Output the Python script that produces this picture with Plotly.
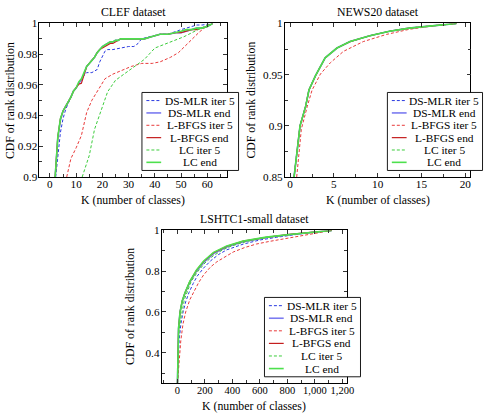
import plotly.graph_objects as go

# ---------------- data ----------------
series_names = ["DS-MLR iter 5", "DS-MLR end", "L-BFGS iter 5", "L-BFGS end", "LC iter 5", "LC end"]

# CLEF dataset
clef_dsmlr_iter5_x = [2.2, 3, 4, 5, 6, 7, 8, 9, 10, 11, 12, 13, 14, 16, 17, 18, 19, 20, 21, 22, 24, 27, 30, 32, 33, 34, 35, 37, 40, 42, 45, 48, 50, 52, 54, 56, 58, 62]
clef_dsmlr_iter5_y = [0.900, 0.915, 0.929, 0.938, 0.944, 0.948, 0.952, 0.956, 0.958, 0.961, 0.964, 0.966, 0.968, 0.968, 0.969, 0.970, 0.975, 0.979, 0.982, 0.983, 0.983, 0.984, 0.985, 0.985, 0.986, 0.988, 0.990, 0.991, 0.992, 0.993, 0.993, 0.995, 0.996, 0.997, 0.998, 0.999, 0.999, 1.000]
clef_end_x = [2, 3, 4, 5, 6, 7, 8, 9, 10, 11, 12, 13, 14, 15, 16, 17, 18, 19, 20, 21, 22, 23, 24, 25, 26, 27, 30, 33, 36, 38, 40, 42, 45, 48, 50, 52, 54, 56, 58, 60, 62]
clef_dsmlr_end_y = [0.900, 0.925, 0.937, 0.943, 0.946, 0.949, 0.952, 0.956, 0.958, 0.961, 0.963, 0.967, 0.972, 0.974, 0.976, 0.978, 0.981, 0.983, 0.985, 0.986, 0.987, 0.988, 0.988, 0.989, 0.989, 0.990, 0.990, 0.990, 0.990, 0.991, 0.992, 0.993, 0.993, 0.994, 0.994, 0.995, 0.996, 0.997, 0.997, 0.998, 1.000]
clef_lbfgs_end_y = [0.900, 0.926, 0.938, 0.943, 0.946, 0.949, 0.952, 0.956, 0.958, 0.9605, 0.961, 0.966, 0.972, 0.974, 0.976, 0.978, 0.981, 0.983, 0.984, 0.985, 0.986, 0.987, 0.987, 0.988, 0.989, 0.990, 0.990, 0.990, 0.990, 0.991, 0.992, 0.993, 0.993, 0.994, 0.994, 0.995, 0.996, 0.996, 0.997, 0.998, 1.000]
clef_lc_end_y = [0.900, 0.926, 0.938, 0.943, 0.946, 0.949, 0.952, 0.956, 0.958, 0.962, 0.964, 0.968, 0.972, 0.974, 0.976, 0.978, 0.981, 0.983, 0.985, 0.986, 0.987, 0.988, 0.988, 0.989, 0.989, 0.990, 0.990, 0.990, 0.990, 0.991, 0.992, 0.993, 0.993, 0.994, 0.995, 0.996, 0.996, 0.997, 0.997, 0.998, 1.000]
clef_lbfgs_iter5_x = [6.4, 8, 10, 12, 14, 16, 18.5, 21, 24, 27, 31, 35, 39, 42, 46, 49, 52, 55, 57, 60, 62]
clef_lbfgs_iter5_y = [0.900, 0.912, 0.919, 0.927, 0.942, 0.950, 0.957, 0.964, 0.967, 0.969, 0.972, 0.974, 0.974, 0.975, 0.978, 0.981, 0.986, 0.991, 0.9945, 0.9987, 1.000]
clef_lc_iter5_x = [12.3, 15, 17, 20, 22, 25, 29, 32, 36, 40, 44, 47, 51, 56, 60, 62]
clef_lc_iter5_y = [0.900, 0.914, 0.931, 0.946, 0.9555, 0.963, 0.968, 0.9713, 0.9766, 0.984, 0.9865, 0.9886, 0.9913, 0.9956, 0.999, 1.000]

# NEWS20 dataset
news_x = [0.45, 0.9, 1.13, 1.77, 2.15, 2.9, 4.0, 5.35, 6.85, 9.1, 11.35, 13.6, 15.9, 17.7, 19]
news_y = [0.850, 0.881, 0.900, 0.919, 0.935, 0.949, 0.9665, 0.976, 0.9823, 0.988, 0.9924, 0.9955, 0.9975, 0.9994, 1.000]
news_lbfgs_iter5_x = [0.75, 0.98, 1.28, 1.96, 2.5, 3.46, 4.6, 6.1, 8.35, 11, 13.6, 16.2, 18.4, 19]
news_lbfgs_iter5_y = [0.850, 0.871, 0.8968, 0.919, 0.9348, 0.9506, 0.9617, 0.9728, 0.9823, 0.9893, 0.9943, 0.9975, 0.9995, 1.000]

# LSHTC1-small dataset
lshtc_dsmlr_iter5_x = [0, 5, 12, 25, 41, 60, 84, 115, 143, 190, 240, 300, 360, 480, 600, 720, 850, 960, 1124]
lshtc_dsmlr_iter5_y = [0.25, 0.38, 0.46, 0.54, 0.60, 0.65, 0.695, 0.74, 0.775, 0.815, 0.850, 0.882, 0.905, 0.933, 0.953, 0.966, 0.979, 0.989, 1.0]
lshtc_end_x = [0, 3, 8, 19, 35, 55, 90, 139, 191, 263, 359, 478, 646, 813, 1004, 1124]
lshtc_dsmlr_end_y = [0.25, 0.40, 0.52, 0.60, 0.652, 0.692, 0.746, 0.800, 0.843, 0.886, 0.918, 0.944, 0.965, 0.979, 0.993, 1.0]
lshtc_lbfgs_end_y = [0.25, 0.40, 0.52, 0.60, 0.654, 0.694, 0.749, 0.805, 0.848, 0.890, 0.922, 0.947, 0.966, 0.980, 0.993, 1.0]
lshtc_lc_end_y = [0.25, 0.40, 0.52, 0.60, 0.655, 0.695, 0.750, 0.806, 0.850, 0.892, 0.924, 0.948, 0.967, 0.980, 0.993, 1.0]
lshtc_lbfgs_iter5_x = [0, 10, 24, 40, 60, 90, 120, 155, 191, 240, 287, 350, 406, 490, 574, 670, 765, 860, 956, 1052, 1124]
lshtc_lbfgs_iter5_y = [0.25, 0.36, 0.457, 0.54, 0.60, 0.66, 0.703, 0.745, 0.782, 0.82, 0.846, 0.873, 0.894, 0.916, 0.933, 0.946, 0.957, 0.966, 0.977, 0.990, 1.0]
lshtc_lc_iter5_x = [0, 4, 10, 25, 50, 100, 150, 200, 260, 330, 400, 500, 600, 700, 800, 900, 1000, 1124]
lshtc_lc_iter5_y = [0.25, 0.40, 0.50, 0.57, 0.66, 0.75, 0.80, 0.84, 0.875, 0.905, 0.925, 0.945, 0.96, 0.97, 0.978, 0.985, 0.991, 1.0]

titles = ["CLEF dataset", "NEWS20 dataset", "LSHTC1-small dataset"]
x_label = "K (number of classes)"
y_label = "CDF of rank distribution"

clef_xticks = [0, 10, 20, 30, 40, 50, 60]
clef_yticks = [0.9, 0.92, 0.94, 0.96, 0.98, 1.0]
clef_yticktext = ["0.9", "0.92", "0.94", "0.96", "0.98", "1"]
news_xticks = [0, 5, 10, 15, 20]
news_yticks = [0.85, 0.9, 0.95, 1.0]
news_yticktext = ["0.85", "0.9", "0.95", "1"]
lshtc_xticks = [0, 200, 400, 600, 800, 1000, 1200]
lshtc_xticktext = ["0", "200", "400", "600", "800", "1,000", "1,200"]
lshtc_yticks = [0.4, 0.6, 0.8, 1.0]
lshtc_yticktext = ["0.4", "0.6", "0.8", "1"]

# ---------------- styles ----------------
W, H = 491, 420
FONT = "'Liberation Serif', 'Times New Roman', 'DejaVu Serif', serif"
styles = [
    dict(color="#2a3ae0", width=1.0, dash="3px,2px"),   # DS-MLR iter 5
    dict(color="#7b7bf0", width=1.6, dash="solid"),     # DS-MLR end
    dict(color="#e83a3a", width=1.0, dash="3px,2px"),   # L-BFGS iter 5
    dict(color="#c41e1e", width=1.2, dash="solid"),     # L-BFGS end
    dict(color="#3ccc3c", width=1.0, dash="3px,2px"),   # LC iter 5
    dict(color="#4de04d", width=1.6, dash="solid"),     # LC end
]

fig = go.Figure()

panels = [
    ("x", "y", [
        (clef_dsmlr_iter5_x, clef_dsmlr_iter5_y),
        (clef_end_x, clef_dsmlr_end_y),
        (clef_lbfgs_iter5_x, clef_lbfgs_iter5_y),
        (clef_end_x, clef_lbfgs_end_y),
        (clef_lc_iter5_x, clef_lc_iter5_y),
        (clef_end_x, clef_lc_end_y),
    ]),
    ("x2", "y2", [
        (news_x, news_y),
        (news_x, news_y),
        (news_lbfgs_iter5_x, news_lbfgs_iter5_y),
        (news_x, news_y),
        (news_x, news_y),
        (news_x, news_y),
    ]),
    ("x3", "y3", [
        (lshtc_dsmlr_iter5_x, lshtc_dsmlr_iter5_y),
        (lshtc_end_x, lshtc_dsmlr_end_y),
        (lshtc_lbfgs_iter5_x, lshtc_lbfgs_iter5_y),
        (lshtc_end_x, lshtc_lbfgs_end_y),
        (lshtc_lc_iter5_x, lshtc_lc_iter5_y),
        (lshtc_end_x, lshtc_lc_end_y),
    ]),
]

for xa, ya, data in panels:
    for (xs, ys), name, st in zip(data, series_names, styles):
        fig.add_trace(go.Scatter(x=xs, y=ys, mode="lines", name=name, xaxis=xa, yaxis=ya,
                                 line=dict(color=st["color"], width=st["width"], dash=st["dash"]),
                                 showlegend=False, hoverinfo="skip"))

# plot area boxes in pixels (left, top, right, bottom)
boxes = [(40, 18, 230, 176), (289, 18, 477.3, 176), (164, 231, 352.3, 388.3)]


def dom_x(b):
    return [b[0] / W, b[2] / W]


def dom_y(b):
    return [1 - b[3] / H, 1 - b[1] / H]


common = dict(showgrid=False, zeroline=False, showline=True, linecolor="black", linewidth=0.9,
              mirror="ticks", ticks="inside", ticklen=4, tickwidth=0.8, tickcolor="#333",
              tickangle=0)

minor_style = dict(ticks="inside", ticklen=3, tickwidth=0.8, tickcolor="#333")
tf = dict(family=FONT, size=11.2, color="black")
tf_small = dict(family=FONT, size=10.5, color="black")
axis_specs = [
    (dict(range=[-4, 67.4], tickvals=clef_xticks, tickfont=tf, ticklabelstandoff=-3,
          minor=dict(dtick=5, **minor_style)),
     dict(range=[0.9, 1.0], tickvals=clef_yticks, ticktext=clef_yticktext, tickfont=tf, ticklabelstandoff=-1,
          minor=dict(dtick=0.01, **minor_style))),
    (dict(range=[-0.6, 20.6], tickvals=news_xticks, tickfont=tf, ticklabelstandoff=-3,
          minor=dict(dtick=2.5, **minor_style)),
     dict(range=[0.85, 1.0], tickvals=news_yticks, ticktext=news_yticktext, tickfont=tf, ticklabelstandoff=-1,
          minor=dict(dtick=0.025, **minor_style))),
    (dict(range=[-115, 1236], tickvals=lshtc_xticks, ticktext=lshtc_xticktext, tickfont=tf_small, ticklabelstandoff=-3,
          minor=dict(dtick=100, **minor_style)),
     dict(range=[0.25, 1.0], tickvals=lshtc_yticks, ticktext=lshtc_yticktext, tickfont=tf, ticklabelstandoff=-1,
          minor=dict(dtick=0.1, **minor_style))),
]

layout_axes = {}
for i, (b, (xs, ys)) in enumerate(zip(boxes, axis_specs)):
    suf = "" if i == 0 else str(i + 1)
    layout_axes["xaxis" + suf] = dict(domain=dom_x(b), anchor="y" + suf, **common, **xs)
    layout_axes["yaxis" + suf] = dict(domain=dom_y(b), anchor="x" + suf, **common, **ys)

annotations = []
shapes = []
title_font = dict(family=FONT, size=11.8, color="black")
label_font = dict(family=FONT, size=11.8, color="black")
title_y = [6.5, 6.5, 219]
xlabel_y = [199.5, 199.5, 412]
ylabel_x = [10, 255, 132]
for b, t, ty, xly, ylx in zip(boxes, titles, title_y, xlabel_y, ylabel_x):
    cx = (b[0] + b[2]) / 2
    cy = (b[1] + b[3]) / 2
    annotations.append(dict(text=t, x=cx / W, y=1 - ty / H, xref="paper", yref="paper",
                            showarrow=False, font=title_font, xanchor="center", yanchor="middle"))
    annotations.append(dict(text=x_label, x=cx / W, y=1 - xly / H, xref="paper", yref="paper",
                            showarrow=False, font=label_font, xanchor="center", yanchor="middle"))
    annotations.append(dict(text=y_label, x=ylx / W, y=1 - cy / H, xref="paper", yref="paper",
                            showarrow=False, font=label_font, textangle=-90,
                            xanchor="center", yanchor="middle"))

# legends (left, top, right, bottom) in pixels
legend_boxes = [(144, 89, 242, 169.3), (393, 89, 489.5, 169.3), (268.3, 300, 365.7, 381.7)]
legend_font = dict(family=FONT, size=11.4, color="black")
for lb in legend_boxes:
    x0, y0, x1, y1 = lb
    shapes.append(dict(type="rect", xref="paper", yref="paper", layer="above",
                       x0=x0 / W, x1=x1 / W, y0=1 - y1 / H, y1=1 - y0 / H,
                       line=dict(color="black", width=0.9), fillcolor="white"))
    pitch = (y1 - y0 - 4) / 6
    for i, (name, st) in enumerate(zip(series_names, styles)):
        yc = y0 + 2 + pitch * (i + 0.5)
        shapes.append(dict(type="line", xref="paper", yref="paper", layer="above",
                           x0=(x0 + 4.5) / W, x1=(x0 + 19.5) / W, y0=1 - yc / H, y1=1 - yc / H,
                           line=dict(color=st["color"], width=st["width"], dash=st["dash"])))
        tx = (x0 + 22 + x1 - 3) / 2
        annotations.append(dict(text=name, x=tx / W, y=1 - yc / H, xref="paper", yref="paper",
                                showarrow=False, font=legend_font, xanchor="center", yanchor="middle"))

fig.update_layout(
    width=W, height=H,
    margin=dict(l=0, r=0, t=0, b=0),
    paper_bgcolor="white", plot_bgcolor="white",
    showlegend=False,
    font=dict(family=FONT),
    annotations=annotations, shapes=shapes,
    **layout_axes,
)

fig.write_html("out.html")
